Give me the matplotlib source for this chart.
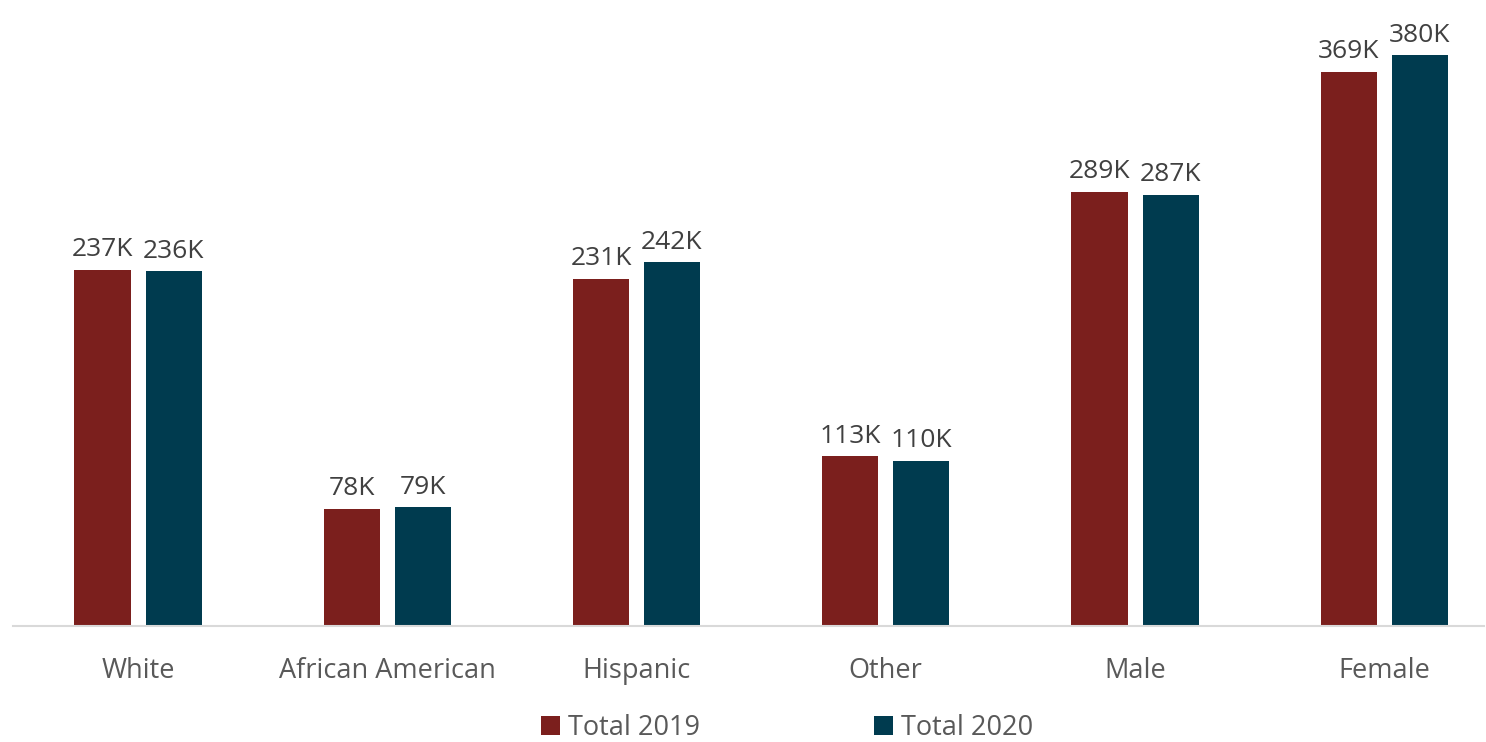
import matplotlib.pyplot as plt
import numpy as np

categories = ["White", "African American", "Hispanic", "Other", "Male", "Female"]
total_2019 = [237, 78, 231, 113, 289, 369]
total_2020 = [236, 79, 242, 110, 287, 380]
labels_2019 = ["237K", "78K", "231K", "113K", "289K", "369K"]
labels_2020 = ["236K", "79K", "242K", "110K", "287K", "380K"]

plt.rcParams['font.family'] = ['Open Sans', 'DejaVu Sans']

fig = plt.figure(figsize=(14.86, 7.42), dpi=100)
ax = fig.add_axes([13.4 / 1486, (742 - 626) / 742, (1484 - 13.4) / 1486, 601 / 742])

x = np.arange(len(categories))
w = 0.225
off = 0.1425
b1 = ax.bar(x - off, total_2019, w, color="#7B1F1D", label="Total 2019")
b2 = ax.bar(x + off, total_2020, w, color="#003B4F", label="Total 2020")

for bars, labs in ((b1, labels_2019), (b2, labels_2020)):
    for b, t in zip(bars, labs):
        ax.text(b.get_x() + b.get_width() / 2, b.get_height() + 5, t,
                ha="center", va="bottom", fontsize=19, color="#404040")

ax.set_xlim(-0.5, 5.4)
ax.set_ylim(0, 400)
ax.set_xticks(x)
ax.set_xticklabels(categories, fontsize=19.5, color="#595959")
ax.tick_params(axis="x", length=0, pad=22)
ax.set_yticks([])
for s in ("top", "right", "left"):
    ax.spines[s].set_visible(False)
ax.spines["bottom"].set_color("#D9D9D9")
ax.spines["bottom"].set_linewidth(1.5)

leg = fig.legend(loc="center", bbox_to_anchor=(787 / 1486, 1 - 728 / 742), ncol=2,
                 frameon=False, fontsize=19.5, handlelength=0.7, handleheight=0.7,
                 handletextpad=0.3, columnspacing=6.4, borderpad=0.2)
for t in leg.get_texts():
    t.set_color("#595959")

fig.savefig("out.png", dpi=100)
